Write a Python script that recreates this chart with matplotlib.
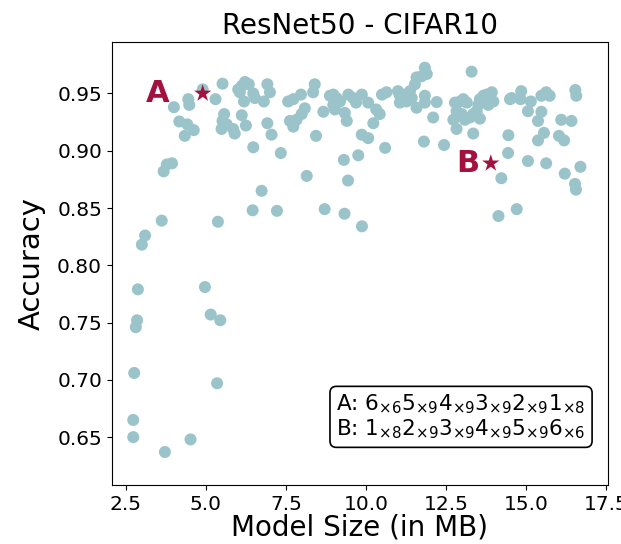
import matplotlib
matplotlib.use("Agg")
import matplotlib.pyplot as plt

# model size (MB) and accuracy of the searched configurations
model_size = [
    2.73, 2.73, 2.76, 2.81, 2.85, 2.875, 3.0, 3.1, 3.62, 3.72, 4.52, 4.97, 5.15, 5.45, 5.35, 5.375,
    3.68, 3.78, 3.94,
    4.0, 4.45, 4.48, 4.9, 5.3, 5.52,
    4.17, 4.42, 4.62, 4.34,
    5.57, 5.52, 5.65, 5.49, 5.85, 5.9, 6.12, 6.25,
    6.01, 6.12, 6.22, 6.34, 6.06, 6.19, 6.48, 6.53, 6.81, 6.92, 7.0,
    6.48, 6.92, 7.05, 7.34,
    6.74, 6.46, 7.22,
    7.57, 7.73, 7.97, 8.35, 8.4,
    7.625, 7.73, 7.83, 7.99, 8.09, 8.44, 8.67, 8.15,
    8.875, 8.98, 9.08, 9.19, 8.98, 9.03, 9.34, 9.45, 9.4, 9.6, 9.69,
    9.31, 9.76, 9.44,
    8.71, 9.33, 9.875,
    9.87, 10.07, 10.23, 9.87, 10.07, 10.32, 10.43, 10.5, 10.64, 10.6,
    11.0, 11.06, 11.22, 11.375, 11.06, 11.27, 11.43, 11.53, 11.58, 11.84, 11.9, 11.74,
    11.58, 11.84, 11.84, 12.21, 12.1, 11.81, 12.44,
    13.3,
    12.78, 12.83, 12.73, 12.94, 13.04, 13.15, 12.99, 13.09, 13.25, 13.35, 13.46, 13.51,
    13.56, 13.67, 13.77, 13.93, 13.98, 13.82, 13.56, 12.83, 13.35,
    14.5, 14.55, 14.85, 14.83, 15.15, 15.48, 15.63, 15.74, 16.54, 16.57,
    15.06, 15.48, 15.375, 16.1, 16.42,
    14.45, 15.56, 15.375, 16.03, 16.19,
    14.44, 15.06, 15.63, 16.21, 16.7, 14.23,
    14.14, 14.71, 16.53, 16.56,
]
accuracy = [
    0.650, 0.665, 0.706, 0.746, 0.752, 0.779, 0.818, 0.826, 0.839, 0.637, 0.648, 0.781, 0.757, 0.752, 0.697, 0.838,
    0.882, 0.888, 0.889,
    0.938, 0.945, 0.940, 0.9535, 0.945, 0.9585,
    0.9255, 0.923, 0.918, 0.913,
    0.932, 0.926, 0.923, 0.919, 0.919, 0.915, 0.931, 0.922,
    0.9535, 0.9565, 0.960, 0.958, 0.951, 0.943, 0.950, 0.946, 0.943, 0.958, 0.951,
    0.903, 0.924, 0.914, 0.898,
    0.865, 0.848, 0.8475,
    0.943, 0.945, 0.949, 0.951, 0.958,
    0.926, 0.921, 0.927, 0.932, 0.937, 0.913, 0.934, 0.878,
    0.948, 0.949, 0.946, 0.943, 0.940, 0.936, 0.933, 0.949, 0.926, 0.946, 0.942,
    0.892, 0.896, 0.874,
    0.849, 0.845, 0.834,
    0.949, 0.942, 0.924, 0.914, 0.911, 0.936, 0.932, 0.949, 0.951, 0.9025,
    0.952, 0.948, 0.949, 0.952, 0.942, 0.943, 0.946, 0.958, 0.964, 0.9725, 0.967, 0.965,
    0.9375, 0.942, 0.948, 0.9425, 0.929, 0.908, 0.905,
    0.969,
    0.942, 0.9345, 0.927, 0.943, 0.945, 0.942, 0.932, 0.927, 0.929, 0.932, 0.9345, 0.940,
    0.945, 0.948, 0.949, 0.951, 0.943, 0.940, 0.928, 0.919, 0.915,
    0.945, 0.946, 0.952, 0.945, 0.943, 0.948, 0.951, 0.948, 0.953, 0.948,
    0.9345, 0.934, 0.926, 0.927, 0.926,
    0.9135, 0.9156, 0.909, 0.913, 0.909,
    0.898, 0.891, 0.889, 0.880, 0.886, 0.876,
    0.843, 0.849, 0.871, 0.866,
]

# highlighted configurations
marked_names = ['A', 'B']
marked_size = [4.9, 13.9]
marked_acc = [0.950, 0.889]
marked_desc = [
    r'$6_{\times 6}5_{\times 9}4_{\times 9}3_{\times 9}2_{\times 9}1_{\times 8}$',
    r'$1_{\times 8}2_{\times 9}3_{\times 9}4_{\times 9}5_{\times 9}6_{\times 6}$',
]
label_gap = [-24, -8]  # how far left of the star each letter sits (points)

point_color = '#9bc4ca'
mark_color = '#a3113f'

plt.rcParams['mathtext.fontset'] = 'dejavusans'

fig = plt.figure(figsize=(6.21, 5.44), dpi=100)
ax = fig.add_axes([0.180, 0.108, 0.799, 0.815])

ax.scatter(model_size, accuracy, s=75, color=point_color, edgecolors='none', zorder=2)
ax.scatter(marked_size, marked_acc, s=170, marker='*', color=mark_color, edgecolors='none', zorder=3)

for name, xs, ya, gap in zip(marked_names, marked_size, marked_acc, label_gap):
    ax.annotate(name, (xs, ya), xytext=(gap, 0), textcoords='offset points',
                ha='right', va='center', fontsize=22, fontweight='bold', color=mark_color)

box_text = '\n'.join(f'{n}: {d}' for n, d in zip(marked_names, marked_desc))
ax.text(0.955, 0.100, box_text, transform=ax.transAxes, ha='right', va='bottom',
        fontsize=15.5, linespacing=1.05,
        bbox=dict(boxstyle='round,pad=0.3', facecolor='white', edgecolor='black', linewidth=1.2))

ax.set_xlim(2.06, 17.56)
ax.set_ylim(0.608, 0.995)
ax.set_xticks([2.5, 5.0, 7.5, 10.0, 12.5, 15.0, 17.5])
ax.set_yticks([0.65, 0.70, 0.75, 0.80, 0.85, 0.90, 0.95])
ax.tick_params(labelsize=14.5)

ax.set_title('ResNet50 - CIFAR10', fontsize=20)
ax.set_xlabel('Model Size (in MB)', fontsize=20, labelpad=0)
ax.set_ylabel('Accuracy', fontsize=21, labelpad=8)

plt.savefig('out.png', dpi=100)
